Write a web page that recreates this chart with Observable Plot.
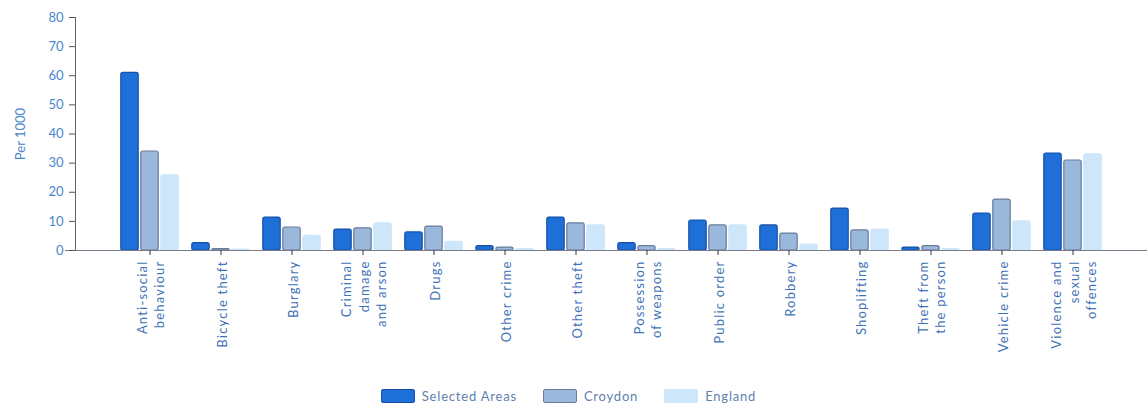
<!DOCTYPE html>
<html><head><meta charset="utf-8">
<script src="https://cdn.jsdelivr.net/npm/d3@7"></script>
<script src="https://cdn.jsdelivr.net/npm/@observablehq/plot@0.6"></script>
<style>
body{margin:0;background:#fff;font-family:Lato,"Open Sans",sans-serif;}
#chart g[aria-label="x-axis tick label"] text{letter-spacing:1.2px;}
#legend{display:flex;justify-content:center;align-items:center;height:28px;margin-top:4px;font-size:13px;letter-spacing:0.8px;color:#5f7fae;padding-right:10px;}
#legend div{display:flex;align-items:center;margin:0 13px;}
#legend span.sw{display:inline-block;width:32px;height:12px;margin-right:7px;border-radius:2px;}
</style></head>
<body>
<div id="chart"></div>
<div id="legend"></div>
<script>
const categories = ["Anti-social\nbehaviour","Bicycle theft","Burglary","Criminal\ndamage\nand arson","Drugs","Other crime","Other theft","Possession\nof weapons","Public order","Robbery","Shoplifting","Theft from\nthe person","Vehicle crime","Violence and\nsexual\noffences"];
const series = ["Selected Areas","Croydon","England"];
const selectedAreas = [61, 2.5, 11.3, 7.2, 6.2, 1.5, 11.3, 2.5, 10.3, 8.6, 14.4, 1, 12.7, 33.3];
const croydon = [34, 0.5, 7.9, 7.6, 8.2, 1, 9.3, 1.5, 8.6, 5.8, 6.9, 1.5, 17.5, 30.9];
const england = [25.8, 0.3, 5, 9.3, 3, 0.5, 8.6, 0.5, 8.6, 2, 7.2, 0.5, 10, 33];
const yTicks = [0,10,20,30,40,50,60,70,80];
const yLabel = "Per 1000";
const fills = ["#1f6fd9","#9ab8dc","#cde6f9"];
const strokes = ["#1450a8","#6a7c99","#cde6f9"];

const values = [selectedAreas, croydon, england];
const rows = values.map(vals => categories.map((c,i)=>({category:c, value:vals[i]})));

const W = 1147, H = 378, ML = 75, MR = 0, MT = 17, MB = 128;
const xOpts = {domain:categories, paddingInner:0, paddingOuter:0.5};
// band width of one category, used to size the three side-by-side bars within it
const bw = Plot.scale({x:{type:"band", ...xOpts, range:[ML, W-MR]}}).bandwidth;
const barW = bw*0.25, gap = bw*0.03;
const offsets = [-(barW+gap), 0, barW+gap]; // bar centre offsets from the category centre
const barMarks = series.map((s,j)=>{
  const left = bw/2 + offsets[j] - barW/2;
  return Plot.barY(rows[j], {x:"category", y:"value", fill:fills[j], stroke:strokes[j], strokeWidth:1.2, rx:2,
    insetLeft:left, insetRight:bw-left-barW});
});

const plot = Plot.plot({
  width: W, height: H,
  marginLeft: ML, marginRight: MR, marginTop: MT, marginBottom: MB,
  style:{fontFamily:"Lato, 'Open Sans', sans-serif", fontSize:"12px", color:"#4a80c4"},
  x:{...xOpts, label:null},
  y:{domain:[0,80], label:null},
  marks:[
    ...barMarks,
    Plot.frame({anchor:"left", stroke:"#666"}),
    Plot.frame({anchor:"bottom", stroke:"#7a7a8a", insetLeft:-10}),
    Plot.axisY({ticks:yTicks, tickSize:6, tickPadding:6, fontSize:13, stroke:"#555", fill:"#4a86cc", label:yLabel, labelAnchor:"center", labelArrow:false, labelOffset:60}),
    Plot.axisX({tickRotate:-90, tickSize:5, tickPadding:5, fontSize:13, lineHeight:1.35, fill:"#3f73b6", stroke:"#333", label:null})
  ]
});
document.getElementById("chart").appendChild(plot);

const lg = document.getElementById("legend");
series.forEach((s,i)=>{
  const d = document.createElement("div");
  d.innerHTML = `<span class="sw" style="background:${fills[i]};border:1px solid ${strokes[i]}"></span>${s}`;
  lg.appendChild(d);
});
</script>
</body></html>
